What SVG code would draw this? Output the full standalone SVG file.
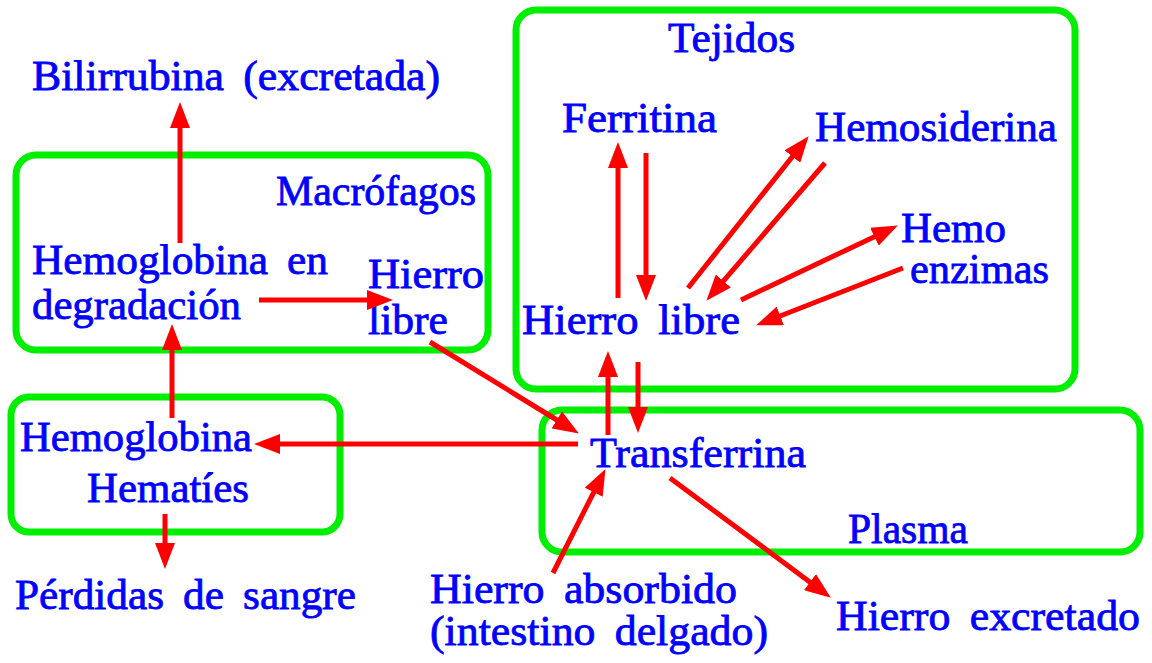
<svg xmlns="http://www.w3.org/2000/svg" width="1152" height="663" viewBox="0 0 1152 663">
<style>
.box{fill:none;stroke:#00ee00;stroke-width:7}
.t{font-family:"Liberation Serif",Tinos,"Times New Roman","Nimbus Roman",serif;font-size:42px;fill:#0000ff;stroke:#0000ff;stroke-width:0.8;word-spacing:8px}
.a{stroke:#ff0000;stroke-width:5;fill:none;marker-end:url(#ah)}
</style>
<defs>
<marker id="ah" markerUnits="userSpaceOnUse" markerWidth="27" markerHeight="20" refX="3" refY="10" orient="auto" viewBox="0 0 27 20">
<path d="M0,0 L26,10 L0,20 z" fill="#ff0000"/>
</marker>
</defs>
<rect width="1152" height="663" fill="#ffffff"/>
<g id="macrofagos"><rect class="box" x="16" y="155" width="472" height="195" rx="20"/><text class="t" x="276" y="205" textLength="200" lengthAdjust="spacingAndGlyphs">Macrófagos</text></g>
<g id="tejidos"><rect class="box" x="516" y="10" width="559" height="379" rx="20"/><text class="t" x="668" y="52" textLength="127" lengthAdjust="spacingAndGlyphs">Tejidos</text></g>
<g id="hematies"><rect class="box" x="11" y="397" width="329" height="135" rx="18"/><text class="t" x="87" y="502" textLength="162" lengthAdjust="spacingAndGlyphs">Hematíes</text></g>
<g id="plasma"><rect class="box" x="542" y="410" width="598" height="142" rx="20"/><text class="t" x="848" y="543" textLength="120" lengthAdjust="spacingAndGlyphs">Plasma</text></g>
<g id="bilirrubina"><text class="t" x="32" y="90" textLength="408" lengthAdjust="spacingAndGlyphs">Bilirrubina (excretada)</text></g>
<g id="hb-degradacion"><text class="t" x="32" y="274" textLength="296" lengthAdjust="spacingAndGlyphs">Hemoglobina en</text><text class="t" x="32" y="319" textLength="209" lengthAdjust="spacingAndGlyphs">degradación</text></g>
<g id="hierro-libre-macro"><text class="t" x="368" y="288" textLength="116" lengthAdjust="spacingAndGlyphs">Hierro</text><text class="t" x="368" y="334" textLength="80" lengthAdjust="spacingAndGlyphs">libre</text></g>
<g id="ferritina"><text class="t" x="562" y="132" textLength="155" lengthAdjust="spacingAndGlyphs">Ferritina</text></g>
<g id="hemosiderina"><text class="t" x="815" y="141" textLength="242" lengthAdjust="spacingAndGlyphs">Hemosiderina</text></g>
<g id="hemoenzimas"><text class="t" x="901" y="242" textLength="105" lengthAdjust="spacingAndGlyphs">Hemo</text><text class="t" x="910" y="283" textLength="139" lengthAdjust="spacingAndGlyphs">enzimas</text></g>
<g id="hierro-libre-tej"><text class="t" x="522" y="334" textLength="218" lengthAdjust="spacingAndGlyphs">Hierro libre</text></g>
<g id="hemoglobina"><text class="t" x="20" y="451" textLength="232" lengthAdjust="spacingAndGlyphs">Hemoglobina</text></g>
<g id="perdidas"><text class="t" x="15" y="609" textLength="341" lengthAdjust="spacingAndGlyphs">Pérdidas de sangre</text></g>
<g id="transferrina"><text class="t" x="590" y="467" textLength="216" lengthAdjust="spacingAndGlyphs">Transferrina</text></g>
<g id="hierro-absorbido"><text class="t" x="430" y="603" textLength="307" lengthAdjust="spacingAndGlyphs">Hierro absorbido</text><text class="t" x="430" y="645" textLength="338" lengthAdjust="spacingAndGlyphs">(intestino delgado)</text></g>
<g id="hierro-excretado"><text class="t" x="836" y="630" textLength="304" lengthAdjust="spacingAndGlyphs">Hierro excretado</text></g>
<g id="connectors">
<line class="a" x1="180" y1="243" x2="180" y2="125"/>
<line class="a" x1="259" y1="300" x2="370" y2="300"/>
<line class="a" x1="172" y1="418" x2="172" y2="347"/>
<line class="a" x1="430" y1="342" x2="559.3" y2="421.5"/>
<line class="a" x1="578" y1="444" x2="277" y2="444"/>
<line class="a" x1="608" y1="435" x2="608" y2="374"/>
<line class="a" x1="638" y1="362" x2="638" y2="410"/>
<line class="a" x1="618" y1="298" x2="618" y2="165"/>
<line class="a" x1="646" y1="153" x2="646" y2="278"/>
<line class="a" x1="688" y1="288" x2="794.3" y2="154.2"/>
<line class="a" x1="825" y1="163" x2="721.4" y2="283.3"/>
<line class="a" x1="741" y1="300" x2="877.1" y2="235.4"/>
<line class="a" x1="903" y1="268" x2="777.5" y2="317"/>
<line class="a" x1="553" y1="573" x2="595.1" y2="489.6"/>
<line class="a" x1="670" y1="478" x2="812.4" y2="583.9"/>
<line class="a" x1="165" y1="514" x2="165" y2="546"/>
</g>
</svg>
